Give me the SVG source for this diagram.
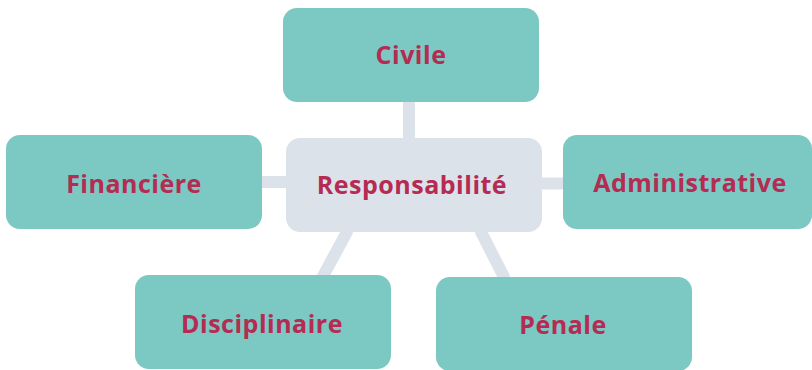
<svg xmlns="http://www.w3.org/2000/svg" width="812" height="370" viewBox="0 0 812 370">
<style>
.leaf{fill:#7CC8C2}
.hub{fill:#DCE2EA}
.conn{stroke:#DCE2EA;stroke-width:12;fill:none}
text{font-family:"Open Sans","Liberation Sans",sans-serif;font-weight:700;font-size:25px;letter-spacing:0.5px;fill:#B52B52;text-anchor:middle}
</style>
<rect width="812" height="370" fill="#FFFFFF"/>
<g id="connectors">
<line class="conn" x1="409" y1="100" x2="409" y2="140"/>
<line class="conn" x1="260" y1="182" x2="288" y2="182"/>
<line class="conn" x1="540" y1="183.5" x2="565" y2="183.5"/>
<line class="conn" x1="348" y1="230" x2="322" y2="278"/>
<line class="conn" x1="480" y1="230" x2="505" y2="279"/>
</g>
<g id="civile"><rect class="leaf" x="283" y="8" width="256" height="94" rx="14"/><text x="411" y="64">Civile</text></g>
<g id="responsabilite"><rect class="hub" x="286" y="138" width="256" height="94" rx="14"/><text x="412" y="194">Responsabilité</text></g>
<g id="financiere"><rect class="leaf" x="6" y="135" width="256" height="94" rx="14"/><text x="134" y="193">Financière</text></g>
<g id="administrative"><rect class="leaf" x="563" y="135" width="249" height="94" rx="14"/><text x="690" y="192">Administrative</text></g>
<g id="disciplinaire"><rect class="leaf" x="135" y="275" width="256" height="94" rx="14"/><text x="262" y="333">Disciplinaire</text></g>
<g id="penale"><rect class="leaf" x="436" y="277" width="256" height="94" rx="14"/><text x="563" y="334">Pénale</text></g>
</svg>
